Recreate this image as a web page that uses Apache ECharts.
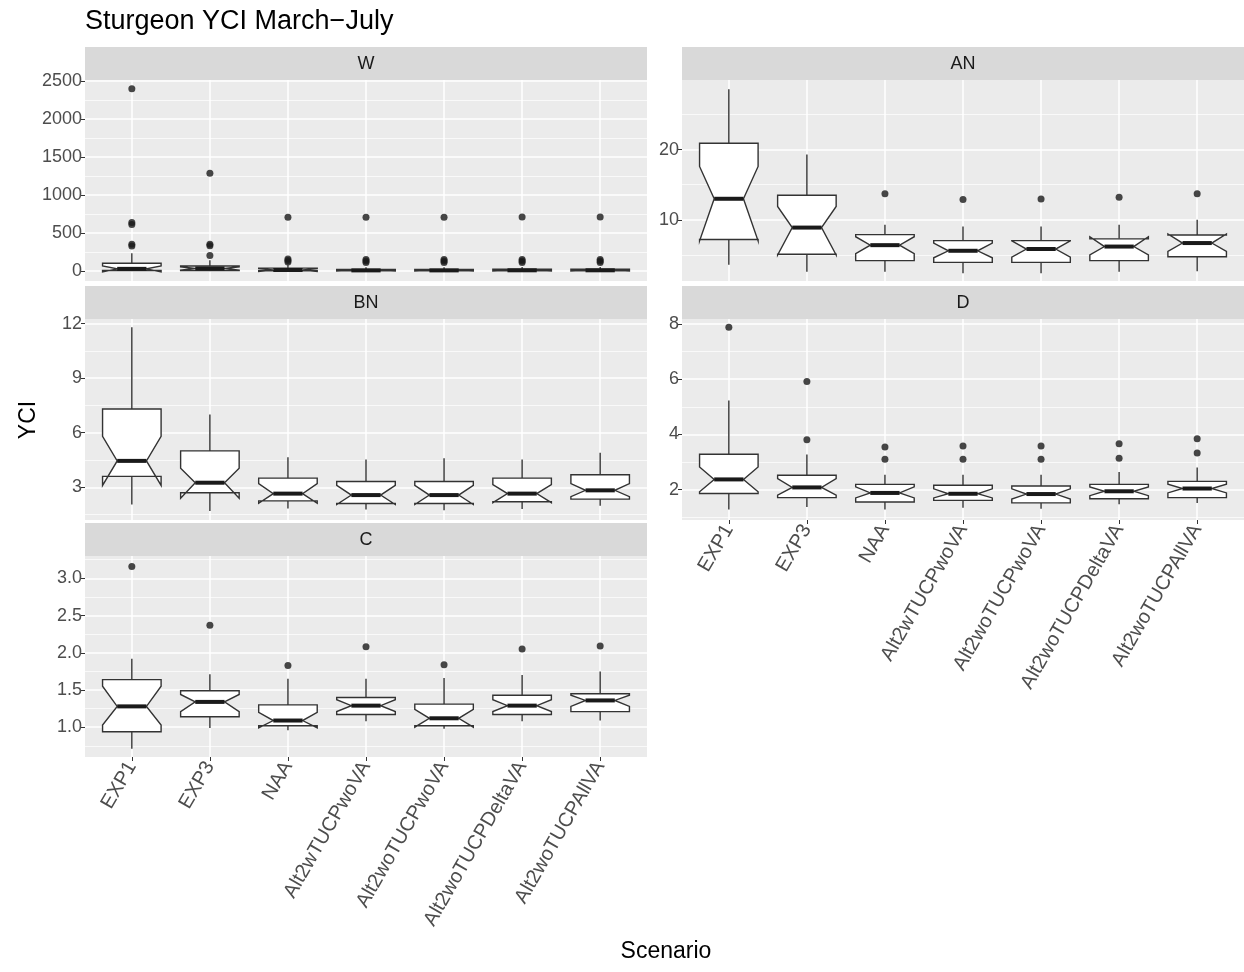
<!DOCTYPE html>
<html><head><meta charset="utf-8">
<script src="https://cdn.jsdelivr.net/npm/echarts@6/dist/echarts.min.js"></script>
<style>html,body{margin:0;padding:0;background:#fff}#c{width:1244px;height:972px}</style>
</head><body><div id="c"></div>
<script>
const scenarios = ['EXP1','EXP3','NAA','Alt2wTUCPwoVA','Alt2woTUCPwoVA','Alt2woTUCPDeltaVA','Alt2woTUCPAllVA'];
// box stats per scenario: [lowerWhisker, q1, notchLow, median, notchHigh, q3, upperWhisker]
const W_box = [
  [0, 3, -15, 25, 65, 100, 232],
  [0, 3, 8, 30, 52, 62, 140],
  [0, 0, -8, 10, 28, 35, 85],
  [0, 0, -3, 5, 13, 18, 45],
  [0, 0, -3, 5, 13, 18, 45],
  [0, 0, -3, 6, 15, 20, 48],
  [0, 0, -3, 6, 15, 20, 50]
];
const W_out = [[1,2400],[1,635],[1,610],[1,350],[1,325],[2,1285],[2,350],[2,330],[2,200],
  [3,705],[3,155],[3,135],[3,115],[4,705],[4,150],[4,130],[4,110],[5,705],[5,150],[5,130],[5,110],
  [6,710],[6,150],[6,130],[6,110],[7,710],[7,150],[7,130],[7,110]];
const AN_box = [
  [3.6, 7.2, 7.0, 13.0, 17.6, 20.9, 28.6],
  [2.6, 5.1, 5.0, 8.9, 11.9, 13.5, 19.3],
  [2.6, 4.2, 5.2, 6.4, 7.6, 7.9, 9.3],
  [2.4, 3.95, 4.6, 5.6, 6.7, 7.05, 9.05],
  [2.4, 3.95, 4.7, 5.85, 7.0, 7.05, 9.05],
  [2.6, 4.2, 5.0, 6.2, 7.6, 7.3, 9.3],
  [2.7, 4.75, 5.5, 6.7, 8.0, 7.85, 10.0]
];
const AN_out = [[3,13.7],[4,12.9],[5,12.95],[6,13.2],[7,13.7]];
const BN_box = [
  [2.05, 3.6, 3.1, 4.45, 5.8, 7.3, 11.8],
  [1.7, 2.7, 2.4, 3.25, 4.05, 5.0, 7.0],
  [1.83, 2.25, 2.12, 2.65, 3.2, 3.5, 4.65],
  [1.78, 2.11, 2.05, 2.57, 3.1, 3.32, 4.52],
  [1.74, 2.11, 2.05, 2.57, 3.1, 3.32, 4.6],
  [1.8, 2.2, 2.15, 2.65, 3.15, 3.5, 4.52],
  [1.98, 2.35, 2.48, 2.83, 3.2, 3.69, 4.9]
];
const BN_out = [];
const D_box = [
  [1.28, 1.86, 1.92, 2.37, 2.82, 3.28, 5.23],
  [1.37, 1.71, 1.8, 2.08, 2.4, 2.52, 3.27],
  [1.28, 1.55, 1.7, 1.88, 2.1, 2.19, 2.54],
  [1.34, 1.61, 1.7, 1.85, 2.03, 2.16, 2.54],
  [1.31, 1.52, 1.66, 1.84, 2.03, 2.13, 2.54],
  [1.47, 1.67, 1.78, 1.94, 2.1, 2.19, 2.64],
  [1.52, 1.71, 1.88, 2.04, 2.2, 2.3, 2.8]
];
const D_out = [[1,7.88],[2,5.92],[2,3.81],[3,3.54],[3,3.1],[4,3.58],[4,3.1],[5,3.58],[5,3.1],[6,3.66],[6,3.14],[7,3.84],[7,3.33]];
const C_box = [
  [0.71, 0.94, 1.03, 1.28, 1.55, 1.64, 1.92],
  [0.99, 1.14, 1.21, 1.34, 1.44, 1.49, 1.71],
  [0.96, 1.02, 0.99, 1.09, 1.2, 1.30, 1.65],
  [1.08, 1.17, 1.21, 1.29, 1.37, 1.40, 1.65],
  [0.98, 1.02, 1.0, 1.12, 1.24, 1.31, 1.66],
  [1.08, 1.17, 1.21, 1.29, 1.37, 1.43, 1.70],
  [1.09, 1.21, 1.28, 1.36, 1.43, 1.45, 1.75]
];
const C_out = [[1,3.16],[2,2.37],[3,1.83],[4,2.08],[5,1.84],[6,2.05],[7,2.09]];
const W_ticks = [0,500,1000,1500,2000,2500];
const AN_ticks = [10,20];
const BN_ticks = [3,6,9,12];
const D_ticks = [2,4,6,8];
const C_ticks = [1.0,1.5,2.0,2.5,3.0];

const FONT = "'Liberation Sans', Arial, sans-serif";
const panels = [
  {name:'W',  box:W_box,  out:W_out,  ticks:W_ticks,  left:85,  top:80,  min:-135, max:2515, showX:false, dec:0},
  {name:'AN', box:AN_box, out:AN_out, ticks:AN_ticks, left:682, top:80,  min:1.3,  max:29.9, showX:false, dec:0},
  {name:'BN', box:BN_box, out:BN_out, ticks:BN_ticks, left:85,  top:319, min:1.2,  max:12.25, showX:false, dec:0},
  {name:'D',  box:D_box,  out:D_out,  ticks:D_ticks,  left:682, top:319, min:0.9,  max:8.18, showX:true, dec:0},
  {name:'C',  box:C_box,  out:C_out,  ticks:C_ticks,  left:85,  top:556, min:0.6,  max:3.3,  showX:true, dec:1}
];
const PW = 562, PH = 201, SH = 32;
const xPos = scenarios.map((s,i)=>i+1);

function minorOf(t){
  const step = t.length>1 ? t[1]-t[0] : 10;
  const m = [t[0]-step/2];
  t.forEach(v=>m.push(v+step/2));
  return m;
}

function renderBox(params, api){
  const x = api.value(0);
  const lo=api.value(1), q1=api.value(2), nl=api.value(3), md=api.value(4), nh=api.value(5), q3=api.value(6), hi=api.value(7);
  const half=0.375, ind=0.1875;
  const c=(a,b)=>api.coord([a,b]);
  const xl=x-half, xr=x+half;
  const pts=[c(xl,q3),c(xl,nh),c(xl+ind,md),c(xl,nl),c(xl,q1),c(xr,q1),c(xr,nl),c(xr-ind,md),c(xr,nh),c(xr,q3)];
  const a=c(x,hi), b=c(x,q3), d=c(x,q1), e=c(x,lo);
  const m1=c(xl+ind,md), m2=c(xr-ind,md);
  const ls={stroke:'#333333', lineWidth:1.4};
  return {type:'group', children:[
    {type:'line', shape:{x1:a[0],y1:a[1],x2:b[0],y2:b[1]}, style:ls},
    {type:'line', shape:{x1:d[0],y1:d[1],x2:e[0],y2:e[1]}, style:ls},
    {type:'polygon', shape:{points:pts}, style:{fill:'#ffffff', stroke:'#333333', lineWidth:1.4}},
    {type:'line', shape:{x1:m1[0],y1:m1[1],x2:m2[0],y2:m2[1]}, style:{stroke:'#1A1A1A', lineWidth:4}}
  ]};
}

const grid=[], xAxis=[], yAxis=[], series=[], graphic=[];
panels.forEach((p,i)=>{
  grid.push({left:p.left, top:p.top, width:PW, height:PH, show:true, backgroundColor:'#EBEBEB', borderWidth:0, containLabel:false, outerBoundsMode:'none'});
  xAxis.push({type:'value', gridIndex:i, min:0.4, max:7.6,
    axisLine:{show:false},
    axisTick:{show:p.showX, length:4, lineStyle:{color:'#333333', width:1}, customValues:xPos},
    axisLabel:{show:p.showX, customValues:xPos, formatter:v=>scenarios[Math.round(v)-1], rotate:60, fontSize:20, color:'#4D4D4D', margin:6, fontFamily:FONT},
    splitLine:{show:true, lineStyle:{color:'#ffffff', width:1.5}}});
  yAxis.push({type:'value', gridIndex:i, min:p.min, max:p.max, position:'left',
    axisLine:{show:false},
    axisTick:{show:true, length:4, lineStyle:{color:'#333333', width:1}, customValues:p.ticks},
    axisLabel:{show:true, customValues:p.ticks, formatter:v=>Number(v).toFixed(p.dec), fontSize:18, color:'#4D4D4D', margin:3, fontFamily:FONT},
    splitLine:{show:true, lineStyle:{color:'#ffffff', width:1.5}}});
  yAxis.push({type:'value', gridIndex:i, min:p.min, max:p.max, position:'left',
    axisLine:{show:false}, axisLabel:{show:false},
    axisTick:{show:false, customValues:minorOf(p.ticks)},
    splitLine:{show:true, lineStyle:{color:'#ffffff', width:0.7}}});
  series.push({type:'scatter', xAxisIndex:i, yAxisIndex:2*i, data:p.out, symbolSize:7, itemStyle:{color:'#1A1A1A'}, z:3, silent:true});
  series.push({type:'custom', xAxisIndex:i, yAxisIndex:2*i, renderItem:renderBox, z:4, silent:true,
    data:p.box.map((b,k)=>[k+1].concat(b))});
  graphic.push({type:'rect', shape:{x:p.left, y:p.top-SH-1, width:PW, height:SH+1}, style:{fill:'#D9D9D9'}, silent:true});
  graphic.push({type:'text', x:p.left+PW/2, y:p.top-SH/2, style:{text:p.name, fontSize:18, fontFamily:FONT, fill:'#1A1A1A', align:'center', verticalAlign:'middle'}, silent:true});
});
graphic.push({type:'text', x:85, y:22, style:{text:'Sturgeon YCI March\u2212July', fontSize:27, fontFamily:FONT, fill:'#000', align:'left', verticalAlign:'middle'}});
graphic.push({type:'text', x:29, y:420, rotation:Math.PI/2, style:{text:'YCI', fontSize:23, fontFamily:FONT, fill:'#000', align:'center', verticalAlign:'middle'}});
graphic.push({type:'text', x:666, y:952, style:{text:'Scenario', fontSize:23, fontFamily:FONT, fill:'#000', align:'center', verticalAlign:'middle'}});

const chart = echarts.init(document.getElementById('c'), null, {renderer:'canvas'});
chart.setOption({animation:false, backgroundColor:'#ffffff', textStyle:{fontFamily:FONT}, grid, xAxis, yAxis, series, graphic});
</script></body></html>
